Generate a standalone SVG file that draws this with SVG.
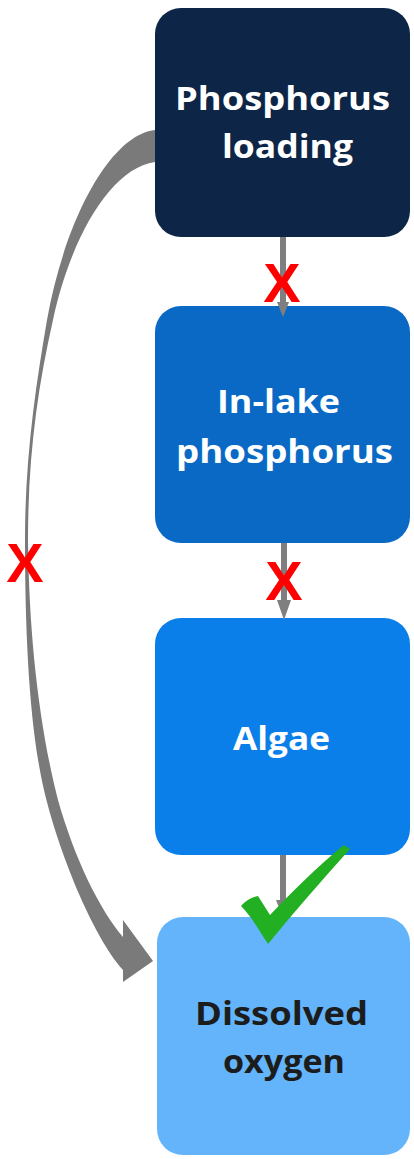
<svg xmlns="http://www.w3.org/2000/svg" width="414" height="1159" viewBox="0 0 414 1159">
  <defs>
    <style>
      .box { stroke: none; }
      .lbl { font-family: "Open Sans", "Liberation Sans", sans-serif; font-weight: 700; font-size: 33px; text-anchor: middle; }
      .light { fill: #ffffff; }
      .dark { fill: #1c1c1c; }
      .shaft { stroke: #7f7f7f; stroke-width: 6; fill: none; }
      .head { fill: #7f7f7f; }
      .cross { font-family: "Liberation Sans", "DejaVu Sans", sans-serif; font-weight: 700; font-size: 56px; fill: #ff0000; text-anchor: middle; }
    </style>
  </defs>

  <rect x="0" y="0" width="414" height="1159" fill="#ffffff"/>

  <!-- nodes -->
  <g id="node-loading">
    <rect class="box" x="155" y="8" width="255" height="229" rx="26" fill="#0d2546"/>
    <text class="lbl light" x="282.5" y="110" textLength="215" lengthAdjust="spacingAndGlyphs">Phosphorus</text>
    <text class="lbl light" x="287.5" y="158" textLength="131" lengthAdjust="spacingAndGlyphs">loading</text>
  </g>
  <g id="node-inlake">
    <rect class="box" x="155" y="306" width="255" height="237" rx="26" fill="#0a69c4"/>
    <text class="lbl light" x="278.5" y="413" textLength="123" lengthAdjust="spacingAndGlyphs">In-lake</text>
    <text class="lbl light" x="284.5" y="463" textLength="217" lengthAdjust="spacingAndGlyphs">phosphorus</text>
  </g>
  <g id="node-algae">
    <rect class="box" x="155" y="618" width="255" height="237" rx="26" fill="#0b7fe9"/>
    <text class="lbl light" x="281.5" y="750" textLength="97" lengthAdjust="spacingAndGlyphs">Algae</text>
  </g>
  <g id="node-oxygen">
    <rect class="box" x="157" y="917" width="253" height="238" rx="26" fill="#63b4fa"/>
    <text class="lbl dark" x="281.5" y="1025" textLength="173" lengthAdjust="spacingAndGlyphs">Dissolved</text>
    <text class="lbl dark" x="284" y="1073" textLength="122" lengthAdjust="spacingAndGlyphs">oxygen</text>
  </g>

  <!-- connectors -->
  <g id="connectors">
    <line class="shaft" x1="283" y1="237" x2="283" y2="304"/>
    <polygon class="head" points="277,302 289,302 283,317"/>
    <line class="shaft" x1="284" y1="543" x2="284" y2="604"/>
    <polygon class="head" points="277,600 291,600 284,620"/>
    <line class="shaft" x1="283" y1="855" x2="283" y2="904"/>
    <polygon class="head" points="276,900 290,900 283,918"/>
    <!-- tapered curved arrow from loading to oxygen -->
    <path fill="#7a7a7a" d="M155,130 C110,135 65,220 47,320 C35,390 25,460 25,540 C25,640 30,730 44,790 C58,850 92,935 123,970 L123,982 L153,961 L123,920 L123,937 C100,910 75,860 58,800 C40,730 29,640 28,540 C28,460 37,390 53,320 C70,240 110,168 155,162 Z"/>
  </g>

  <!-- verdict marks -->
  <g id="marks">
    <text class="cross" x="282" y="302">X</text>
    <text class="cross" x="284" y="600">X</text>
    <text class="cross" x="25" y="582">X</text>
    <path fill="#22b022" d="M241,906 C246,900 252,897 258,896 L270,915 C292,892 318,866 344,845 L350,849 C322,880 294,912 268,944 C260,932 252,917 241,906 Z"/>
  </g>
</svg>
